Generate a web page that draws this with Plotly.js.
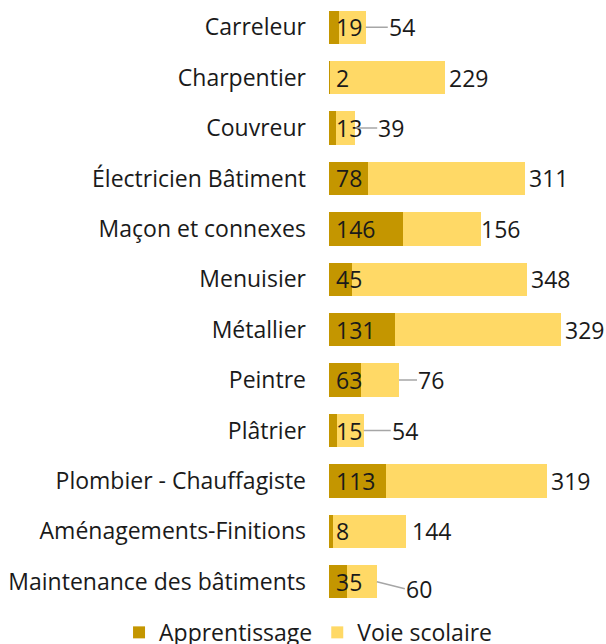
<!DOCTYPE html>
<html>
<head>
<meta charset="utf-8">
<script src="https://cdn.plot.ly/plotly-3.0.1.min.js"></script>
<style>
  html, body { margin: 0; padding: 0; background: #fff; }
  #chart { width: 606px; height: 644px; }
</style>
</head>
<body>
<div id="chart"></div>
<script>
// Effectifs par métier du bâtiment
const metiers = [
  'Carreleur', 'Charpentier', 'Couvreur', 'Électricien Bâtiment',
  'Maçon et connexes', 'Menuisier', 'Métallier', 'Peintre',
  'Plâtrier', 'Plombier - Chauffagiste', 'Aménagements-Finitions',
  'Maintenance des bâtiments'
];
const apprentissage = [19, 2, 13, 78, 146, 45, 131, 63, 15, 113, 8, 35];
const voieScolaire = [54, 229, 39, 311, 156, 348, 329, 76, 54, 319, 144, 60];

// label placement for the outside values (pixels), connector drawn when > 10
const labelShift = [22, 4, 22, 4, 0, 4, 4, 18, 27, 4, 6, 28];
const labelDrop = [0, 0, 0, 0, 0, 0, 0, 0, 0, 0, 0, 7];

const darkGold = '#C49600';
const lightGold = '#FFD966';
const font = { family: 'Open Sans, sans-serif', size: 23, color: '#1a1a1a' };

const traces = [
  {
    type: 'bar', orientation: 'h', name: 'Apprentissage',
    y: metiers, x: apprentissage,
    marker: { color: darkGold, line: { width: 0 } },
    hoverinfo: 'x+y'
  },
  {
    type: 'bar', orientation: 'h', name: 'Voie scolaire',
    y: metiers, x: voieScolaire,
    marker: { color: lightGold, line: { width: 0 } },
    hoverinfo: 'x+y'
  }
];

const annotations = [];
metiers.forEach((m, i) => {
  // value of apprentissage, at the start of the bar
  annotations.push({
    x: 0, y: m, xref: 'x', yref: 'y',
    text: String(apprentissage[i]), showarrow: false,
    xanchor: 'left', xshift: 5, font: font
  });
  const total = apprentissage[i] + voieScolaire[i];
  if (labelShift[i] > 10) {
    annotations.push({
      x: total, y: m, xref: 'x', yref: 'y',
      text: String(voieScolaire[i]), showarrow: true,
      ax: labelShift[i], ay: labelDrop[i], xanchor: 'left',
      arrowhead: 0, arrowwidth: 1.5, arrowcolor: '#a6a6a6',
      standoff: 0, startstandoff: 0, borderpad: 0,
      font: font
    });
  } else {
    annotations.push({
      x: total, y: m, xref: 'x', yref: 'y',
      text: String(voieScolaire[i]), showarrow: false,
      xanchor: 'left', xshift: labelShift[i] - 2, font: font
    });
  }
});

const layout = {
  width: 606, height: 644,
  margin: { l: 329, r: 0, t: 2, b: 37, autoexpand: false },
  barmode: 'stack',
  bargap: 0.34,
  paper_bgcolor: '#fff', plot_bgcolor: '#fff',
  font: font,
  showlegend: true,
  legend: {
    orientation: 'h', xref: 'paper', yref: 'paper',
    x: -0.758, xanchor: 'left', y: -0.042, yanchor: 'middle',
    font: font, traceorder: 'normal', itemwidth: 30,
    borderwidth: 0
  },
  xaxis: {
    range: [0, 550], showgrid: false, zeroline: false,
    showticklabels: false, ticks: '', showline: false
  },
  yaxis: {
    autorange: 'reversed', showgrid: false, zeroline: false,
    ticks: '', showline: false, ticklabelstandoff: 22,
    tickfont: font
  },
  annotations: annotations
};

Plotly.newPlot('chart', traces, layout, { displayModeBar: false, staticPlot: true });
</script>
</body>
</html>
